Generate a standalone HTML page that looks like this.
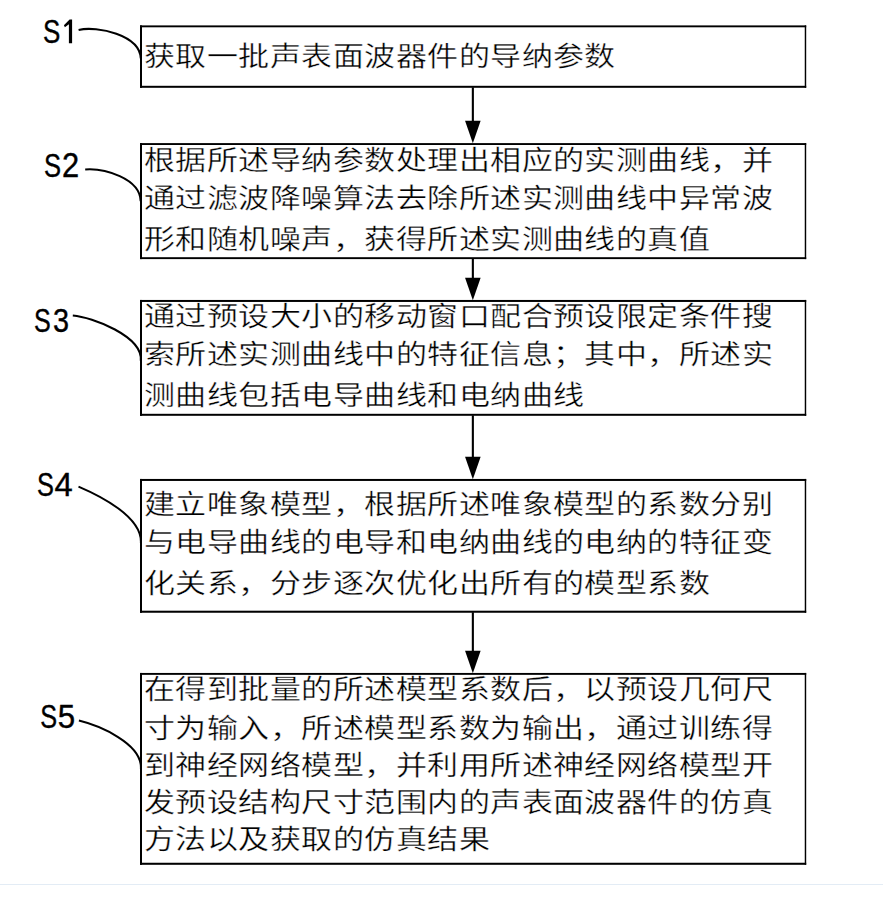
<!DOCTYPE html>
<html lang="zh-CN"><head><meta charset="utf-8"><title>flow</title><style>
html,body{margin:0;padding:0;background:#fff;width:883px;height:903px;overflow:hidden}
.t{position:absolute;font-family:"Liberation Serif",serif;font-size:27.5px;letter-spacing:0.915px;transform:scaleX(1.127);transform-origin:0 50%;line-height:40px;height:40px;white-space:nowrap;color:#000;-webkit-text-stroke:0.35px #fff}
.s{position:absolute;left:0;top:0;font-family:"Liberation Sans",sans-serif;font-size:100px;line-height:120px;color:#000;transform-origin:0 0;-webkit-text-stroke:1.2px #000}
svg{position:absolute;left:0;top:0}
.hr{position:absolute;left:0;top:884px;width:883px;height:1px;background:#e3ecf5}
</style></head><body>
<div class="t" style="left:144px;top:37.0px">获取一批声表面波器件的导纳参数</div>
<div class="t" style="left:144px;top:140.8px">根据所述导纳参数处理出相应的实测曲线，并</div>
<div class="t" style="left:144px;top:178.5px">通过滤波降噪算法去除所述实测曲线中异常波</div>
<div class="t" style="left:144px;top:219.5px">形和随机噪声，获得所述实测曲线的真值</div>
<div class="t" style="left:144px;top:297.2px">通过预设大小的移动窗口配合预设限定条件搜</div>
<div class="t" style="left:144px;top:335.0px">索所述实测曲线中的特征信息；其中，所述实</div>
<div class="t" style="left:144px;top:375.8px">测曲线包括电导曲线和电纳曲线</div>
<div class="t" style="left:144px;top:484.5px">建立唯象模型，根据所述唯象模型的系数分别</div>
<div class="t" style="left:144px;top:522.5px">与电导曲线的电导和电纳曲线的电纳的特征变</div>
<div class="t" style="left:144px;top:563.5px">化关系，分步逐次优化出所有的模型系数</div>
<div class="t" style="left:144px;top:670.0px">在得到批量的所述模型系数后，以预设几何尺</div>
<div class="t" style="left:144px;top:709.2px">寸为输入，所述模型系数为输出，通过训练得</div>
<div class="t" style="left:144px;top:745.5px">到神经网络模型，并利用所述神经网络模型开</div>
<div class="t" style="left:144px;top:782.5px">发预设结构尺寸范围内的声表面波器件的仿真</div>
<div class="t" style="left:144px;top:819.5px">方法以及获取的仿真结果</div>
<div class="s" style="transform:matrix(0.2593,0,0,0.3375,42.96,11.00)">S</div>
<div class="s" style="transform:matrix(0.2559,0,0,0.3389,43.98,144.47)">S</div>
<div class="s" style="transform:matrix(0.3085,0,0,0.3486,61.97,143.89)">2</div>
<div class="s" style="transform:matrix(0.2508,0,0,0.3333,34.10,300.80)">S</div>
<div class="s" style="transform:matrix(0.2878,0,0,0.3380,53.04,300.35)">3</div>
<div class="s" style="transform:matrix(0.2542,0,0,0.3347,36.88,464.57)">S</div>
<div class="s" style="transform:matrix(0.3275,0,0,0.3329,54.55,464.58)">4</div>
<div class="s" style="transform:matrix(0.2525,0,0,0.3347,40.29,696.17)">S</div>
<div class="s" style="transform:matrix(0.3122,0,0,0.3400,57.86,695.66)">5</div>
<svg width="883" height="903" viewBox="0 0 883 903">
<rect x="140.0" y="25.4" width="666.20" height="1.90"/>
<rect x="140.0" y="85.8" width="666.20" height="2.00"/>
<rect x="140.0" y="25.4" width="2.00" height="62.40"/>
<rect x="804.75" y="25.4" width="1.45" height="62.40"/>
<rect x="140.0" y="143.1" width="666.20" height="1.90"/>
<rect x="140.0" y="257.2" width="666.20" height="1.90"/>
<rect x="140.0" y="143.1" width="2.00" height="116.00"/>
<rect x="804.75" y="143.1" width="1.45" height="116.00"/>
<rect x="140.0" y="299.95" width="666.20" height="2.00"/>
<rect x="140.0" y="413.8" width="666.20" height="2.00"/>
<rect x="140.0" y="299.95" width="2.00" height="115.85"/>
<rect x="804.75" y="299.95" width="1.45" height="115.85"/>
<rect x="140.0" y="478.95" width="666.20" height="2.00"/>
<rect x="140.0" y="610.7" width="666.20" height="2.05"/>
<rect x="140.0" y="478.95" width="2.00" height="133.80"/>
<rect x="804.75" y="478.95" width="1.45" height="133.80"/>
<rect x="140.0" y="672.95" width="666.20" height="1.90"/>
<rect x="140.0" y="862.75" width="666.20" height="2.05"/>
<rect x="140.0" y="672.95" width="2.00" height="191.85"/>
<rect x="804.75" y="672.95" width="1.45" height="191.85"/>
<path d="M78.6,29.9 C97.2,25.7 139.9,34.8 140.8,58.5" fill="none" stroke="#000" stroke-width="2.05"/>
<path d="M85.2,169.4 C103.9,168.0 140.1,178.2 140.7,201.2" fill="none" stroke="#000" stroke-width="2.05"/>
<path d="M72.8,315.5 C92.0,317.1 143.2,336.1 140.8,360.8" fill="none" stroke="#000" stroke-width="2.05"/>
<path d="M78.5,486.6 C99.1,495.4 142.6,516.7 140.9,543.3" fill="none" stroke="#000" stroke-width="2.05"/>
<path d="M78.9,720.6 C99.1,725.5 142.4,743.5 140.9,768.7" fill="none" stroke="#000" stroke-width="2.05"/>
<rect x="471.80" y="87.30" width="2.1" height="35.50"/>
<path d="M465.05,120.80 L480.65,120.80 L472.85,143.30 Z"/>
<rect x="471.80" y="258.60" width="2.1" height="21.05"/>
<path d="M465.05,277.65 L480.65,277.65 L472.85,300.15 Z"/>
<rect x="471.80" y="415.30" width="2.1" height="43.35"/>
<path d="M465.05,456.65 L480.65,456.65 L472.85,479.15 Z"/>
<rect x="471.80" y="612.25" width="2.1" height="40.40"/>
<path d="M465.05,650.65 L480.65,650.65 L472.85,673.15 Z"/>
<path d="M72.1,19.4 L72.1,43.3 L68.9,43.3 L68.9,24.2 L64.9,27.3 L63.9,25.2 L69.6,19.4 Z" fill="#000"/>
</svg>
<div class="hr"></div>
</body></html>
